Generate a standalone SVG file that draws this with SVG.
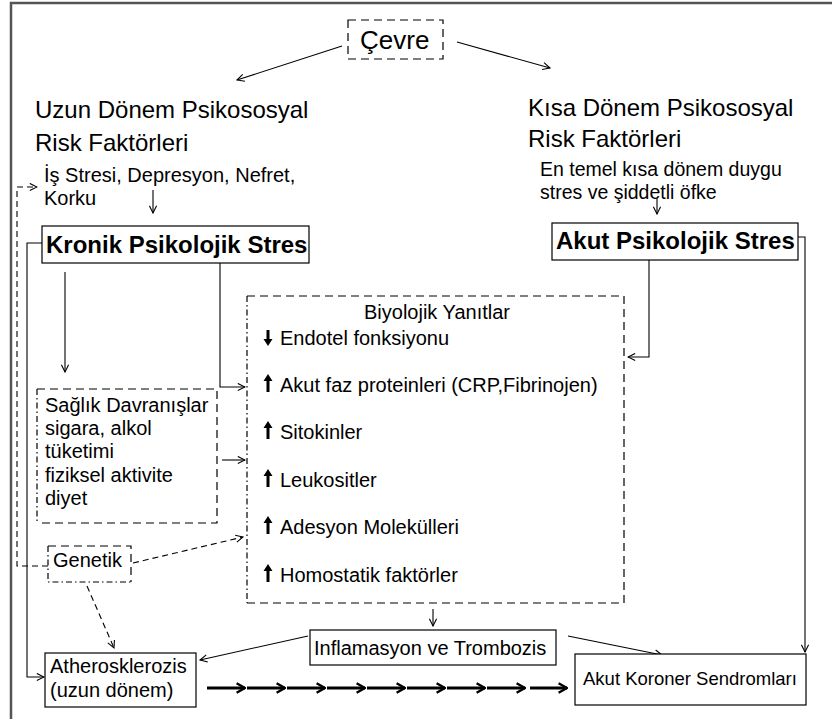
<svg xmlns="http://www.w3.org/2000/svg" width="832" height="719" viewBox="0 0 832 719">
<defs>
<marker id="ah" viewBox="0 0 10 10" refX="9" refY="5" markerWidth="9" markerHeight="9" markerUnits="userSpaceOnUse" orient="auto">
<path d="M1,1 L9,5 L1,9" fill="none" stroke="#000" stroke-width="1.2"/>
</marker>
<marker id="ahb" viewBox="0 0 10 10" refX="9" refY="5" markerWidth="12" markerHeight="14" markerUnits="userSpaceOnUse" orient="auto">
<path d="M2,1 L9,5 L2,9" fill="none" stroke="#000" stroke-width="2"/>
</marker>
<path id="up" d="M0,0 L-4.5,7 L-1.5,7 L-1.5,18 L1.5,18 L1.5,7 L4.5,7 Z"/>
<path id="down" d="M0,18 L-4.5,11 L-1.5,11 L-1.5,2 L1.5,2 L1.5,11 L4.5,11 Z"/>
</defs>
<style>
text{font-family:"Liberation Sans",Arial,sans-serif;fill:#000}
.h{font-size:24px}
.b{font-size:24px;font-weight:bold}
.s{font-size:19.5px}
.m{font-size:20px}
.box{fill:#fff;stroke:#000;stroke-width:1.2}
.dash{fill:none;stroke:#000;stroke-width:1.2;stroke-dasharray:8 5}
.dd{fill:none;stroke:#000;stroke-width:1.2;stroke-dasharray:6 3 1.5 3}
.c{fill:none;stroke:#000;stroke-width:1.1;marker-end:url(#ah)}
.cd{fill:none;stroke:#000;stroke-width:1.1;stroke-dasharray:6 4;marker-end:url(#ah)}
.tk{fill:none;stroke:#000;stroke-width:3;marker-end:url(#ahb)}
</style>
<rect width="832" height="719" fill="#fff"/>
<path d="M11,719 V3 H832" fill="none" stroke="#555" stroke-width="2.5"/>

<g id="connectors">
<line class="c" x1="342" y1="46" x2="237" y2="80"/>
<line class="c" x1="457" y1="42" x2="550" y2="68"/>
<line class="c" x1="153" y1="190" x2="153" y2="213"/>
<path class="cd" d="M48,566 H17 V187 H37"/>
<path class="c" d="M42,243 H27 V677 H44"/>
<line class="c" x1="65" y1="272" x2="65" y2="372"/>
<path class="c" d="M220,263 V387 H245"/>
<line class="c" x1="222" y1="460" x2="245" y2="460"/>
<line class="cd" x1="133" y1="563" x2="243" y2="537"/>
<line class="cd" x1="87" y1="586" x2="114" y2="648"/>
<line class="c" x1="657" y1="198" x2="657" y2="214"/>
<path class="c" d="M649,260 V357 H628"/>
<path class="c" d="M798,237 H805 V652"/>
<line class="c" x1="433" y1="609" x2="433" y2="626"/>
<line class="c" x1="308" y1="636" x2="200" y2="660"/>
<line class="c" x1="568" y1="636" x2="662" y2="655"/>
<g id="thick-arrows">
<line class="tk" x1="207" y1="688" x2="245" y2="688"/>
<line class="tk" x1="247" y1="688" x2="285" y2="688"/>
<line class="tk" x1="287" y1="688" x2="325" y2="688"/>
<line class="tk" x1="327" y1="688" x2="365" y2="688"/>
<line class="tk" x1="367" y1="688" x2="405" y2="688"/>
<line class="tk" x1="407" y1="688" x2="445" y2="688"/>
<line class="tk" x1="447" y1="688" x2="485" y2="688"/>
<line class="tk" x1="487" y1="688" x2="525" y2="688"/>
<line class="tk" x1="530" y1="688" x2="567" y2="688"/>
</g>
</g>

<g id="cevre">
<rect class="dash" x="348" y="20" width="95" height="39"/>
<text x="360" y="49" style="font-size:26px">Çevre</text>
</g>

<g id="uzun">
<text class="h" x="35" y="118">Uzun Dönem Psikososyal</text>
<text class="h" x="35" y="151">Risk Faktörleri</text>
<text class="m" x="44" y="182">İş Stresi, Depresyon, Nefret,</text>
<text class="m" x="44" y="205">Korku</text>
</g>

<g id="kisa">
<text class="h" x="528" y="116">Kısa Dönem Psikososyal</text>
<text class="h" x="528" y="147">Risk Faktörleri</text>
<text class="s" x="540" y="176">En temel kısa dönem duygu</text>
<text class="s" x="540" y="199">stres ve şiddetli öfke</text>
</g>

<g id="kronik">
<rect class="box" x="42" y="226" width="267" height="37"/>
<text class="b" x="46" y="253">Kronik Psikolojik Stres</text>
</g>

<g id="akut">
<rect class="box" x="552" y="223" width="246" height="37"/>
<text class="b" x="556" y="249">Akut Psikolojik Stres</text>
</g>

<g id="biyolojik">
<path class="dash" d="M247,296 H624 V603 H247"/>
<path class="dd" d="M247,296 V603"/>
<text class="m" x="364" y="319">Biyolojik Yanıtlar</text>
<use href="#down" x="268" y="328"/>
<text class="m" x="280" y="345">Endotel fonksiyonu</text>
<use href="#up" x="268" y="374"/>
<text class="m" x="280" y="392">Akut faz proteinleri (CRP,Fibrinojen)</text>
<use href="#up" x="268" y="421"/>
<text class="m" x="280" y="439">Sitokinler</text>
<use href="#up" x="268" y="469"/>
<text class="m" x="280" y="487">Leukositler</text>
<use href="#up" x="268" y="516"/>
<text class="m" x="280" y="534">Adesyon Molekülleri</text>
<use href="#up" x="268" y="564"/>
<text class="m" x="280" y="582">Homostatik faktörler</text>
</g>

<g id="saglik">
<path class="dash" d="M37,389 H217 V523 H37"/>
<path class="dd" d="M37,389 V523"/>
<text class="m" x="45" y="412">Sağlık Davranışlar</text>
<text class="m" x="45" y="435">sigara, alkol</text>
<text class="m" x="45" y="458">tüketimi</text>
<text class="m" x="45" y="482">fiziksel aktivite</text>
<text class="m" x="45" y="505">diyet</text>
</g>

<g id="genetik">
<path class="dash" d="M48,546 H131 V582"/>
<path class="dd" d="M48,546 V582 H131"/>
<text class="m" x="53" y="567">Genetik</text>
</g>

<g id="athero">
<rect class="box" x="45" y="653" width="151" height="54"/>
<text class="m" x="50" y="673">Atherosklerozis</text>
<text class="m" x="50" y="697">(uzun dönem)</text>
</g>

<g id="inflamasyon">
<rect class="box" x="310" y="630" width="246" height="35"/>
<text class="m" x="314" y="655">Inflamasyon ve Trombozis</text>
</g>

<g id="koroner">
<rect class="box" x="575" y="654" width="231" height="51"/>
<text x="583" y="685" style="font-size:18.5px">Akut Koroner Sendromları</text>
</g>
</svg>
